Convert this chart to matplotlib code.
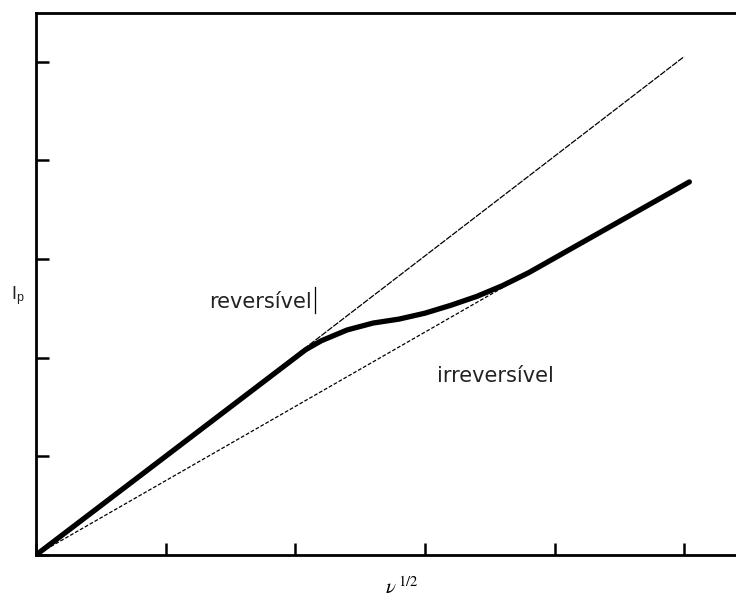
import matplotlib
matplotlib.use("Agg")
import matplotlib.pyplot as plt
from matplotlib.lines import Line2D

# data (axis units = tick spacing)
x_rev = [0.0, 5.0]
y_rev = [0.0, 5.05]
x_irr = [0.0, 3.8]
y_irr = [0.0, 2.86]
x_obs = [0.0, 2.08, 2.2, 2.4, 2.6, 2.8, 3.0, 3.2, 3.4, 3.6, 3.8, 5.04]
y_obs = [0.0, 2.08, 2.17, 2.28, 2.35, 2.39, 2.45, 2.53, 2.62, 2.73, 2.86, 3.78]
x_ticks = [0, 1, 2, 3, 4, 5]
y_ticks = [0, 1, 2, 3, 4, 5]

plt.rcParams["mathtext.fontset"] = "stix"

fig = plt.figure(figsize=(7.36, 5.98), dpi=100)
ax = fig.add_axes([36/736, 43/598, 713/736, 542/598])
ax.set_xlim(0, 5.5)
ax.set_ylim(0, 542/98.7)

ax.plot(x_rev, y_rev, color="black", lw=0.9, ls=(0, (5, 1)))
ax.plot(x_irr, y_irr, color="black", lw=0.9, ls=(0, (3, 1.5)))
ax.plot(x_obs, y_obs, color="black", lw=3.8, solid_capstyle="round", solid_joinstyle="round")

ax.set_xticks(x_ticks)
ax.set_yticks(y_ticks)
ax.set_xticklabels([])
ax.set_yticklabels([])
ax.tick_params(direction="in", length=9, width=1.8, top=False, right=False)
for s in ["left", "bottom", "top"]:
    ax.spines[s].set_linewidth(2)
ax.spines["right"].set_visible(False)

ax.text(1.335, 2.50, "reversível", fontsize=15, family="DejaVu Sans", va="baseline", ha="left", color="#222222")
ax.text(3.094, 1.753, "irreversível", fontsize=15, family="DejaVu Sans", va="baseline", ha="left", color="#222222")
# text cursor bar after "reversível"
fig.add_artist(Line2D([315/736, 315/736], [1 - 287/598, 1 - 313/598], color="black", lw=0.9))

fig.text(11/736, 1 - 296/598, r"I$_\mathregular{p}$", fontsize=13, family="Liberation Sans", va="center", ha="left", color="#222222")
fig.text(385/736, 1 - 576/598, r"$\nu^{\,1/2}$", fontsize=15, va="top", ha="left")

fig.savefig("out.png", dpi=100)
